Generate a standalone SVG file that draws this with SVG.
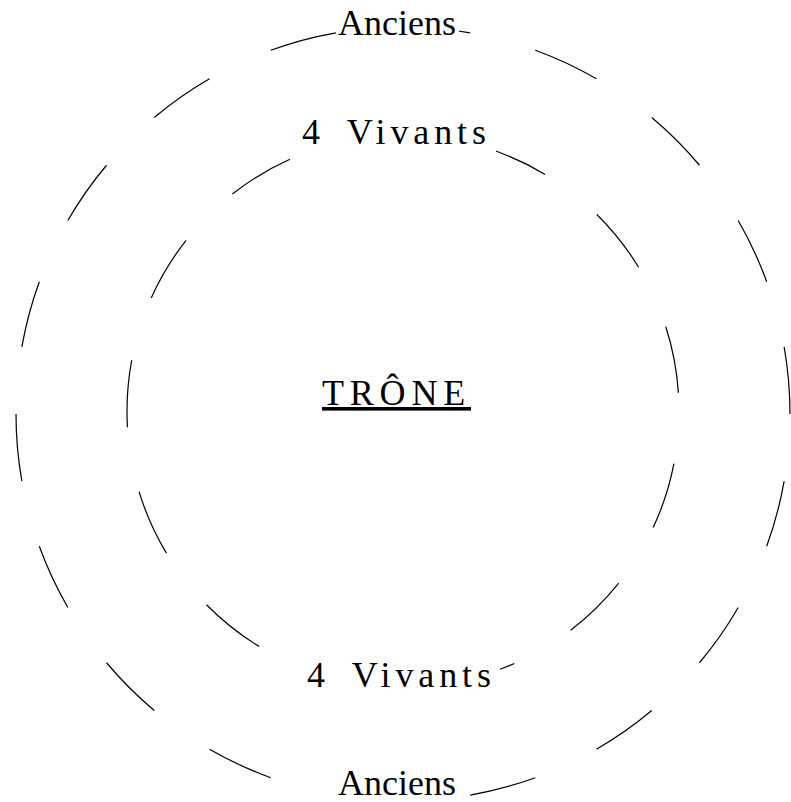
<svg xmlns="http://www.w3.org/2000/svg" width="791" height="802" viewBox="0 0 791 802">
<style>
.ring{fill:none;stroke:#000;stroke-width:1.2}
.lbl{font-family:"Liberation Serif","Times New Roman",serif;font-size:36px;fill:#000}
.sp{letter-spacing:4.9px;word-spacing:8.6px}
.bg{fill:#fff}
</style>
<rect width="791" height="802" fill="#fff"/>
<g id="rings">
<circle id="ring-outer" class="ring" cx="403" cy="414" r="387" pathLength="360" stroke-dasharray="10 10" stroke-dashoffset="10"/>
<circle id="ring-inner" class="ring" cx="403" cy="411" r="276" pathLength="360" stroke-dasharray="14 13.6" stroke-dashoffset="16.6"/>
</g>
<g id="anciens-top">
<rect class="bg" x="337" y="4" width="122" height="40"/>
<text class="lbl" x="338" y="35">Anciens</text>
</g>
<g id="vivants-top">
<rect class="bg" x="298" y="110" width="198" height="43"/>
<text class="lbl sp" x="302" y="144">4 Vivants</text>
</g>
<g id="trone">
<text class="lbl" x="322" y="405" style="letter-spacing:5.8px;text-decoration:underline">TRÔNE</text>
</g>
<g id="vivants-bottom">
<rect class="bg" x="303" y="653" width="197" height="42"/>
<text class="lbl sp" x="307" y="687">4 Vivants</text>
</g>
<g id="anciens-bottom">
<rect class="bg" x="334" y="762" width="126" height="40"/>
<text class="lbl" x="338" y="795">Anciens</text>
</g>
</svg>
